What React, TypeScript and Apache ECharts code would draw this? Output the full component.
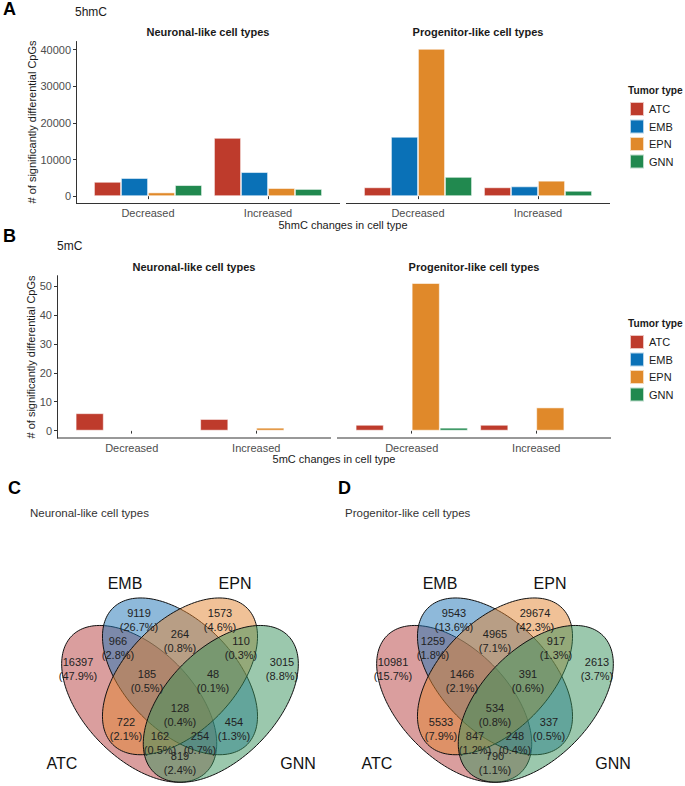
import React, { useEffect, useRef } from 'react';
import * as echarts from 'echarts';

// ---------------- DATA ----------------
const categories = ['Decreased', 'Increased'];
const tumorTypes = ['ATC', 'EMB', 'EPN', 'GNN'];
const tumorColors = ['#BE3B2C', '#0A71B7', '#E0892A', '#21894F'];
const vennColors = ['rgba(182,62,62,0.5)', 'rgba(30,116,182,0.5)', 'rgba(226,132,48,0.5)', 'rgba(56,146,92,0.5)'];

// rows: ATC, EMB, EPN, GNN ; columns: Decreased, Increased
const hmcNeuronal = [[3900, 15900], [4950, 6550], [1000, 2200], [3000, 1950]];
const hmcProgenitor = [[2400, 2400], [16200, 2650], [40200, 4200], [5250, 1450]];
const mcNeuronal = [[6, 4], [0, 0], [0, 1], [0, 0]];
const mcProgenitor = [[2, 2], [0, 0], [51, 8], [1, 0]];
const hmcTicks = [0, 10000, 20000, 30000, 40000];
const mcTicks = [0, 10, 20, 30, 40, 50];

// Venn regions
const vennRegions = ['ATC', 'EMB', 'EPN', 'GNN', 'ATC&EMB', 'EMB&EPN', 'EPN&GNN', 'ATC&EMB&EPN', 'EMB&EPN&GNN', 'ALL', 'ATC&EPN', 'EMB&GNN', 'ATC&EPN&GNN', 'ATC&EMB&GNN', 'ATC&GNN'];
const neuronalCounts = [16397, 9119, 1573, 3015, 966, 264, 110, 185, 48, 128, 722, 454, 162, 254, 819];
const neuronalPercents = ['47.9%', '26.7%', '4.6%', '8.8%', '2.8%', '0.8%', '0.3%', '0.5%', '0.1%', '0.4%', '2.1%', '1.3%', '0.5%', '0.7%', '2.4%'];
const progenitorCounts = [10981, 9543, 29674, 2613, 1259, 4965, 917, 1466, 391, 534, 5533, 337, 847, 248, 790];
const progenitorPercents = ['15.7%', '13.6%', '42.3%', '3.7%', '1.8%', '7.1%', '1.3%', '2.1%', '0.6%', '0.8%', '7.9%', '0.5%', '1.2%', '0.4%', '1.1%'];

// ---------------- LAYOUT ----------------
const FONT = '"Liberation Sans", Arial, Helvetica, sans-serif';
const AXIS_COLOR = '#333333';

// label layout (dx from venn centre, y of the count line)
const regionLabelPos = [
  [-102, 662], [-41, 613], [40, 613], [102, 662], [-62, 641], [0, 634], [61, 641],
  [-33, 674], [33, 674], [0, 708], [-54, 722], [54, 722], [-20, 736], [20, 736], [0, 756],
];
const setLabelPos = [[-118, 763], [-55, 583], [55, 583], [118, 763]];
// ellipse geometry in unit space (VennDiagram-like)
const ellipseGeom = [
  { cx: 0.35, cy: 0.47, ang: -Math.PI / 4 },
  { cx: 0.5, cy: 0.57, ang: -Math.PI / 4 },
  { cx: 0.5, cy: 0.57, ang: Math.PI / 4 },
  { cx: 0.65, cy: 0.47, ang: Math.PI / 4 },
];

function ellipsePoints(g: any, X0: number, Y0: number, sx: number, sy: number) {
  const a = 0.35, b = 0.2;
  const pts: number[][] = [];
  const n = 160;
  for (let i = 0; i < n; i++) {
    const t = (i / n) * Math.PI * 2;
    const u = a * Math.cos(t), v = b * Math.sin(t);
    const gx = g.cx + u * Math.cos(g.ang) - v * Math.sin(g.ang);
    const gy = g.cy + u * Math.sin(g.ang) + v * Math.cos(g.ang);
    pts.push([X0 + (gx - 0.5) * sx, Y0 - (gy - 0.5) * sy]);
  }
  return pts;
}

function txt(text: string, x: number, y: number, opts: any = {}) {
  return {
    type: 'text',
    x, y,
    rotation: opts.rotation || 0,
    silent: true,
    z: 10,
    style: {
      text,
      x: 0, y: 0,
      fill: opts.color || '#1a1a1a',
      fontSize: opts.size || 11,
      fontWeight: opts.weight || 'normal',
      fontFamily: FONT,
      align: opts.align || 'left',
      verticalAlign: 'middle',
      textAlign: opts.align || 'left',
      textVerticalAlign: 'middle',
    },
  };
}

function hline(x1: number, x2: number, y: number) {
  return { type: 'line', silent: true, z: 5, shape: { x1, y1: y, x2, y2: y }, style: { stroke: AXIS_COLOR, lineWidth: 1 } };
}

export default function App() {
  const ref = useRef<HTMLDivElement>(null);

  useEffect(() => {
    document.body.style.margin = '0';
    if (!ref.current) return;
    const chart = echarts.init(ref.current, null, { renderer: 'svg' });

    const hmcMax = Math.max(...hmcNeuronal.flat(), ...hmcProgenitor.flat());
    const mcMax = Math.max(...mcNeuronal.flat(), ...mcProgenitor.flat());
    const hmcRange = [-0.05 * hmcMax, 1.05 * hmcMax];
    const mcRange = [-0.05 * mcMax, 1.05 * mcMax];

    const facets = [
      { data: hmcNeuronal, L: 76, R: 340, top: 41.5, bottom: 203.5, showY: true, ticks: hmcTicks, range: hmcRange },
      { data: hmcProgenitor, L: 346, R: 610, top: 41.5, bottom: 203.5, showY: false, ticks: hmcTicks, range: hmcRange },
      { data: mcNeuronal, L: 57, R: 331, top: 275.7, bottom: 438, showY: true, ticks: mcTicks, range: mcRange },
      { data: mcProgenitor, L: 337, R: 611, top: 275.7, bottom: 438, showY: false, ticks: mcTicks, range: mcRange },
    ];

    const grid: any[] = [];
    const xAxis: any[] = [];
    const yAxis: any[] = [];
    const series: any[] = [];
    const graphic: any[] = [];

    facets.forEach((f, i) => {
      const unit = (f.R - f.L) / 2.2;
      grid.push({ left: f.L + 0.1 * unit, width: 2 * unit, top: f.top, height: f.bottom - f.top, containLabel: false, outerBoundsMode: 'none' });
      xAxis.push({
        type: 'category', gridIndex: i, data: categories,
        axisLine: { show: false },
        axisTick: { show: true, alignWithLabel: true, length: 3, lineStyle: { color: AXIS_COLOR, width: 1 } },
        axisLabel: { fontSize: 11, color: '#4D4D4D', margin: 4, fontFamily: FONT },
        splitLine: { show: false },
      });
      yAxis.push({
        type: 'value', gridIndex: i, min: f.range[0], max: f.range[1], show: f.showY,
        offset: 0.1 * unit,
        axisLine: { show: true, lineStyle: { color: AXIS_COLOR, width: 1 } },
        axisTick: { show: true, length: 3, customValues: f.ticks, lineStyle: { color: AXIS_COLOR, width: 1 } },
        axisLabel: {
          fontSize: 11, color: '#4D4D4D', margin: 5, customValues: f.ticks, fontFamily: FONT,
          formatter: (v: number) => String(v),
        },
        splitLine: { show: false },
      });
      tumorTypes.forEach((t, k) => {
        series.push({
          type: 'bar', name: t, xAxisIndex: i, yAxisIndex: i,
          data: f.data[k],
          barWidth: 0.225 * unit, barGap: '0%',
          itemStyle: { color: tumorColors[k], borderColor: 'rgba(255,255,255,0.7)', borderWidth: 0.8 },
          silent: true,
        });
      });
      graphic.push(hline(f.L, f.R, f.bottom));
    });

    // bar-chart texts
    graphic.push(txt('A', 3, 9, { size: 18, weight: 'bold', color: '#000' }));
    graphic.push(txt('5hmC', 75, 12, { size: 12 }));
    graphic.push(txt('Neuronal-like cell types', 208, 32, { weight: 'bold', align: 'center' }));
    graphic.push(txt('Progenitor-like cell types', 478, 32, { weight: 'bold', align: 'center' }));
    graphic.push(txt('# of significantly differential CpGs', 32, 122, { align: 'center', rotation: Math.PI / 2 }));
    graphic.push(txt('5hmC changes in cell type', 343, 225, { align: 'center' }));
    graphic.push(txt('Tumor type', 628, 90, { weight: 'bold', size: 10.2 }));

    graphic.push(txt('B', 3, 236, { size: 18, weight: 'bold', color: '#000' }));
    graphic.push(txt('5mC', 57, 246, { size: 12 }));
    graphic.push(txt('Neuronal-like cell types', 194, 267, { weight: 'bold', align: 'center' }));
    graphic.push(txt('Progenitor-like cell types', 474, 267, { weight: 'bold', align: 'center' }));
    graphic.push(txt('# of significantly differential CpGs', 31, 357, { align: 'center', rotation: Math.PI / 2 }));
    graphic.push(txt('5mC changes in cell type', 334, 459, { align: 'center' }));
    graphic.push(txt('Tumor type', 628, 323, { weight: 'bold', size: 10.2 }));

    // Venn diagrams
    const venns = [
      { X0: 180, letter: 'C', lx: 8, title: 'Neuronal-like cell types', tx: 30, counts: neuronalCounts, pcts: neuronalPercents },
      { X0: 495, letter: 'D', lx: 338, title: 'Progenitor-like cell types', tx: 345, counts: progenitorCounts, pcts: progenitorPercents },
    ];
    const Y0 = 695.6, SX = 272, SY = 275;
    venns.forEach((v) => {
      graphic.push(txt(v.letter, v.lx, 488, { size: 18, weight: 'bold', color: '#000' }));
      graphic.push(txt(v.title, v.tx, 513, { size: 11.5, color: '#333' }));
      ellipseGeom.forEach((g, k) => {
        graphic.push({
          type: 'polygon', silent: true, z: 3,
          shape: { points: ellipsePoints(g, v.X0, Y0, SX, SY) },
          style: { fill: vennColors[k], stroke: '#111', lineWidth: 1 },
        });
      });
      vennRegions.forEach((r, k) => {
        const [dx, y] = regionLabelPos[k];
        graphic.push(txt(String(v.counts[k]), v.X0 + dx, y, { align: 'center', color: '#222', size: 11 }));
        graphic.push(txt('(' + v.pcts[k] + ')', v.X0 + dx, y + 14, { align: 'center', color: '#222', size: 11 }));
      });
      tumorTypes.forEach((t, k) => {
        const [dx, y] = setLabelPos[k];
        graphic.push(txt(t, v.X0 + dx, y, { align: 'center', color: '#111', size: 16 }));
      });
    });

    const legendBase = {
      orient: 'vertical', left: 629, itemWidth: 14, itemHeight: 14, itemGap: 1.5, padding: 0,
      icon: 'rect', selectedMode: false, data: tumorTypes,
      textStyle: { fontSize: 11, color: '#1a1a1a', fontFamily: FONT },
    };

    chart.setOption({
      animation: false,
      backgroundColor: '#ffffff',
      textStyle: { fontFamily: FONT },
      grid, xAxis, yAxis, series,
      legend: [
        { ...legendBase, top: 101 },
        { ...legendBase, top: 334 },
      ],
      graphic: { elements: graphic },
    });

    return () => chart.dispose();
  }, []);

  return <div ref={ref} style={{ width: 685, height: 786 }} />;
}
